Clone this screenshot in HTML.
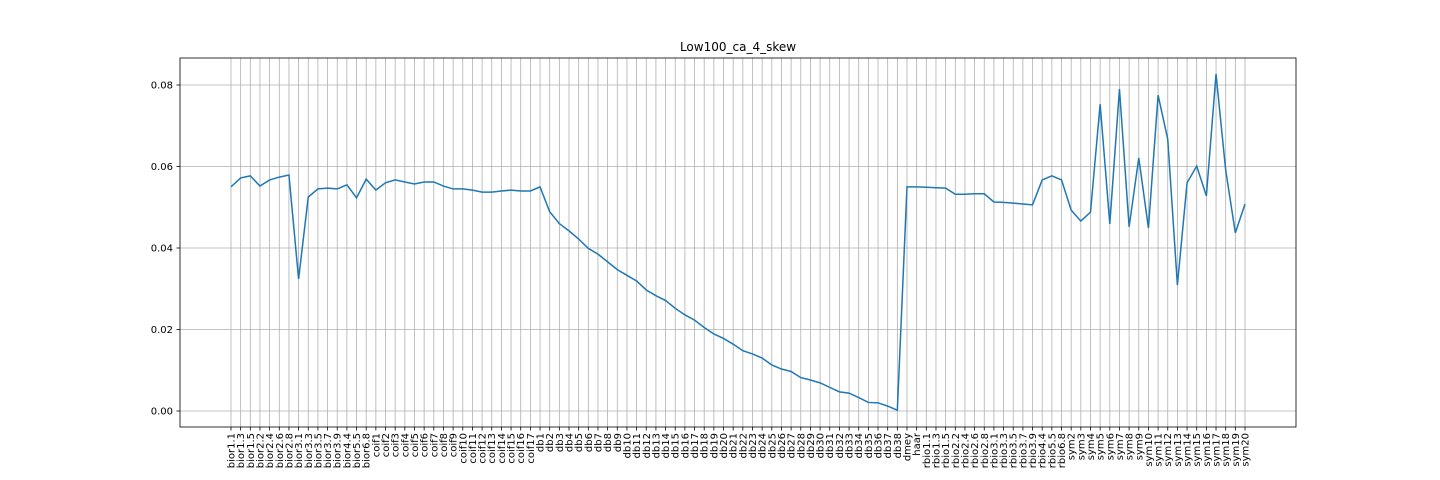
<!DOCTYPE html>
<html><head><meta charset="utf-8"><style>body{margin:0;background:#fff}svg{display:block;font-family:"DejaVu Sans","Liberation Sans",sans-serif}</style></head>
<body>
<svg id="chart" width="1440" height="480" xmlns="http://www.w3.org/2000/svg">
<text x="738" y="51" text-anchor="middle" font-size="12">Low100_ca_4_skew</text>
<g id="grid"></g><g id="ticks"></g>
<path id="line" fill="none" stroke="#1f77b4" stroke-width="1.5"/>
<rect x="180" y="58" width="1116" height="369" fill="none" stroke="#000" stroke-width="0.8"/>
</svg>
<script>
const categories=["bior1.1","bior1.3","bior1.5","bior2.2","bior2.4","bior2.6","bior2.8","bior3.1","bior3.3","bior3.5","bior3.7","bior3.9","bior4.4","bior5.5","bior6.8","coif1","coif2","coif3","coif4","coif5","coif6","coif7","coif8","coif9","coif10","coif11","coif12","coif13","coif14","coif15","coif16","coif17","db1","db2","db3","db4","db5","db6","db7","db8","db9","db10","db11","db12","db13","db14","db15","db16","db17","db18","db19","db20","db21","db22","db23","db24","db25","db26","db27","db28","db29","db30","db31","db32","db33","db34","db35","db36","db37","db38","dmey","haar","rbio1.1","rbio1.3","rbio1.5","rbio2.2","rbio2.4","rbio2.6","rbio2.8","rbio3.1","rbio3.3","rbio3.5","rbio3.7","rbio3.9","rbio4.4","rbio5.5","rbio6.8","sym2","sym3","sym4","sym5","sym6","sym7","sym8","sym9","sym10","sym11","sym12","sym13","sym14","sym15","sym16","sym17","sym18","sym19","sym20"];
const values=[0.0550,0.0572,0.0577,0.0552,0.0567,0.0574,0.0579,0.0324,0.0525,0.0545,0.0547,0.0545,0.0555,0.0523,0.0569,0.0542,0.0560,0.0567,0.0562,0.0557,0.0562,0.0562,0.0552,0.0545,0.0545,0.0542,0.0537,0.0537,0.0540,0.0542,0.0540,0.0540,0.0550,0.0489,0.0460,0.0442,0.0422,0.0399,0.0385,0.0366,0.0347,0.0333,0.0319,0.0297,0.0283,0.0271,0.0252,0.0236,0.0223,0.0205,0.0189,0.0178,0.0164,0.0148,0.0140,0.0130,0.0113,0.0103,0.0097,0.0082,0.0076,0.0069,0.0058,0.0047,0.0044,0.0033,0.0021,0.0020,0.0012,0.0002,0.0550,0.0550,0.0549,0.0548,0.0547,0.0532,0.0532,0.0533,0.0533,0.0513,0.0512,0.0510,0.0508,0.0506,0.0567,0.0577,0.0567,0.0493,0.0466,0.0488,0.0753,0.0459,0.0790,0.0452,0.0621,0.0449,0.0775,0.0667,0.0309,0.0560,0.0601,0.0528,0.0827,0.0591,0.0437,0.0508];
const yTicks=[0,0.02,0.04,0.06,0.08];
const yTickLabels=["0.00","0.02","0.04","0.06","0.08"];
const NS="http://www.w3.org/2000/svg";
const x=i=>231+i*(1245-231)/(categories.length-1);
const y=v=>411-v*4075;
const grid=document.getElementById('grid'),ticks=document.getElementById('ticks');
function mk(t,a,p){const e=document.createElementNS(NS,t);for(const k in a)e.setAttribute(k,a[k]);p.appendChild(e);return e;}
categories.forEach((c,i)=>{
 const g=mk('line',{x1:x(i),x2:x(i),y1:58,y2:427,stroke:'#b0b0b0','stroke-width':0.8},grid);
 
 
 const tk=mk('line',{x1:x(i),x2:x(i),y1:427,y2:430.5,stroke:'#000','stroke-width':0.8},ticks);
 
 
 const t=mk('text',{transform:`translate(${x(i)+3.5},433) rotate(-90)`,'text-anchor':'end','font-size':10},ticks);
 t.textContent=c;
 
 
});
yTicks.forEach((v,i)=>{
 const g=mk('line',{x1:180,x2:1296,y1:y(v),y2:y(v),stroke:'#b0b0b0','stroke-width':0.8},grid);
 
 
 const tk=mk('line',{x1:176.5,x2:180,y1:y(v),y2:y(v),stroke:'#000','stroke-width':0.8},ticks);
 
 
 const t=mk('text',{x:173,y:y(v)+3.5,'text-anchor':'end','font-size':10},ticks);
 t.textContent=yTickLabels[i];
 
 
});
document.getElementById('line').setAttribute('d',values.map((v,i)=>(i?'L':'M')+x(i).toFixed(2)+','+y(v).toFixed(2)).join(''));
</script>
</body></html>
